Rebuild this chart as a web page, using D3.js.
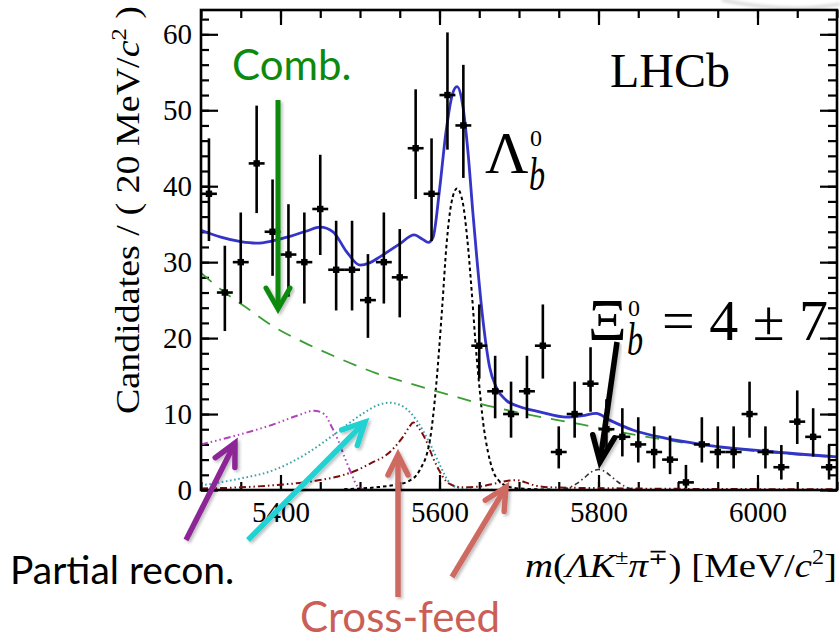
<!DOCTYPE html>
<html>
<head>
<meta charset="utf-8">
<script src="https://cdn.jsdelivr.net/npm/d3@7"></script>
<style>
  html, body { margin: 0; padding: 0; background: #fff; }
  svg { display: block; }
</style>
</head>
<body>
<svg id="chart" width="840" height="641"></svg>
<script>
// ---- Data: m(Lambda K pi) spectrum, 20 MeV/c^2 bins ----
const binCenters = [5310, 5330, 5350, 5370, 5390, 5410, 5430, 5450, 5470, 5490,
                    5510, 5530, 5550, 5570, 5590, 5610, 5630, 5650, 5670, 5690,
                    5710, 5730, 5750, 5770, 5790, 5810, 5830, 5850, 5870, 5890,
                    5910, 5930, 5950, 5970, 5990, 6010, 6030, 6050, 6070, 6090];
const counts = [39, 26, 30, 43, 34, 31, 30, 37, 29, 29,
                25, 30, 28, 45, 39, 52, 48, 19, 13, 10,
                13, 19, 5, 10, 14, 8, 7, 6, 5, 4,
                1, 6, 5, 5, 10, 5, 3, 9, 7, 3];
// asymmetric (Poisson) uncertainties
const errLow = [6.22, 5.07, 5.45, 6.54, 5.80, 5.54, 5.45, 6.06, 5.36, 5.36,
                4.97, 5.45, 5.27, 6.69, 6.22, 7.19, 6.91, 4.33, 3.56, 3.11,
                3.56, 4.33, 2.16, 3.11, 3.70, 2.77, 2.58, 2.38, 2.16, 1.91,
                0.83, 2.38, 2.16, 2.16, 3.11, 2.16, 1.63, 2.94, 2.58, 1.63];
const errHigh = [7.30, 6.16, 6.54, 7.61, 6.89, 6.63, 6.54, 7.14, 6.45, 6.45,
                 6.06, 6.54, 6.36, 7.76, 7.30, 8.25, 7.98, 5.43, 4.67, 4.27,
                 4.67, 5.43, 3.38, 4.27, 4.80, 3.95, 3.77, 3.58, 3.38, 3.16,
                 2.30, 3.58, 3.38, 3.38, 4.27, 3.38, 2.92, 4.11, 3.77, 2.92];
const binHalfWidth = 10;

// ---- Fit components: [mass, candidates per bin] ----
const totalFit = [[5300,34.2],[5325,33.3],[5350,32.7],[5370,32.5],[5390,32.8],[5412,33.4],
  [5433,34.1],[5450,34.6],[5466,34.0],[5483,31.4],[5500,29.6],[5512,29.9],[5525,30.7],
  [5550,32.4],[5568,33.6],[5579,33.0],[5586,32.6],[5592,33.3],[5600,39.5],[5608,47.0],
  [5616,52.0],[5622,53.1],[5629,50.8],[5636,44.3],[5642,36.5],[5647,30.5],[5654,23.0],
  [5663,16.2],[5672,13.4],[5684,11.8],[5700,11.0],[5726,10.3],[5760,9.6],[5780,9.8],
  [5797,10.1],[5814,9.2],[5843,7.9],[5885,6.8],[5927,6.05],[6011,5.1],[6100,4.35]];
const combinatorial = [[5300,28.6],[5330,26.0],[5360,23.8],[5390,21.6],[5430,19.4],
  [5470,17.5],[5520,15.4],[5570,13.8],[5610,12.6],[5650,11.4],[5690,10.4],[5780,8.6],
  [5850,7.2],[5930,5.9],[6010,5.0],[6100,4.3]];
const lambdabSignal = [[5480,0.1],[5520,0.35],[5545,0.7],[5560,1.1],[5575,2.6],[5588,6.6],
  [5596,14],[5603,23.5],[5609,32.5],[5615,37.8],[5622,39.7],[5629,38],[5635,33],[5641,25.5],
  [5646,18.4],[5650,13.8],[5655,8.8],[5661,5],[5667,2.6],[5675,1.2],[5685,0.5],[5700,0.2],
  [5740,0.05]];
const xibSignal = [[5740,0],[5760,0.2],[5772,0.8],[5782,1.6],[5790,2.3],[5800,2.7],
  [5810,2.3],[5818,1.6],[5828,0.8],[5840,0.2],[5860,0]];
const partialRecoA = [[5300,6.0],[5345,7.2],[5390,8.6],[5424,9.9],[5442,10.45],[5455,10.0],
  [5464,8.4],[5473,6.4],[5481,4.2],[5489,2.2],[5496,0.6],[5503,0.1],[5510,0]];
const partialRecoB = [[5300,0.6],[5349,1.5],[5391,2.6],[5433,4.8],[5470,7.5],[5504,10.1],
  [5523,11.2],[5537,11.5],[5554,11.0],[5571,9.2],[5588,6.1],[5600,3.4],[5613,0.9],
  [5625,0.25],[5640,0.05],[5700,0]];
const crossFeed = [[5300,0.2],[5350,0.35],[5400,0.7],[5430,1.0],[5455,1.4],[5480,2.0],
  [5496,2.6],[5515,3.6],[5533,4.6],[5545,5.8],[5554,7.0],[5562,8.3],[5567,8.9],[5575,8.0],
  [5584,6.3],[5592,4.2],[5600,2.5],[5608,1.2],[5617,0.6],[5630,0.35],[5650,0.45],
  [5672,0.9],[5688,1.25],[5697,1.3],[5708,1.0],[5720,0.6],[5740,0.35],[5800,0.25],
  [5900,0.15],[6100,0.1]];

const xTicks = [5400, 5600, 5800, 6000];
const yTicks = [0, 10, 20, 30, 40, 50, 60];
const xMinorTicks = [5300,5350,5400,5450,5500,5550,5600,5650,5700,5750,5800,5850,5900,5950,6000,6050,6100];
const yMinorTicks = [0,2,4,6,8,10,12,14,16,18,20,22,24,26,28,30,32,34,36,38,40,42,44,46,48,50,52,54,56,58,60,62];

// ---- Setup ----
const svg = d3.select("#chart");
const serif = "'Liberation Serif','Times New Roman',Times,serif";
const sans = "Lato,'Open Sans','Noto Sans',sans-serif";
const plot = { left: 201, right: 837, top: 10, bottom: 490 };

const x = d3.scaleLinear().domain([5300, 6100]).range([plot.left, plot.right]);
const y = d3.scaleLinear().domain([0, 63.2]).range([plot.bottom, plot.top]);

const defs = svg.append("defs");
defs.append("clipPath").attr("id", "plotClip")
  .append("rect").attr("x", plot.left).attr("y", plot.top)
  .attr("width", plot.right - plot.left).attr("height", plot.bottom - plot.top);
const shadow = defs.append("filter").attr("id", "shadow")
  .attr("x", "-20%").attr("y", "-20%").attr("width", "140%").attr("height", "140%");
shadow.append("feDropShadow").attr("dx", 2).attr("dy", 2).attr("stdDeviation", 1.5)
  .attr("flood-color", "#000").attr("flood-opacity", 0.25);
const soft = defs.append("filter").attr("id", "soft");
soft.append("feGaussianBlur").attr("stdDeviation", 1.5);

// faint rim of a neighbouring panel at the top-right corner
svg.append("path").attr("d", "M722,0 Q790,14 840,4")
  .attr("fill", "none").attr("stroke", "#d8d8d8").attr("stroke-width", 3)
  .attr("filter", "url(#soft)");

// ---- Axes (ticks point inward on all four sides) ----
function styleAxis(g) {
  g.select(".domain").remove();
  g.selectAll(".tick line").attr("stroke", "#000").attr("stroke-width", 2.2);
  g.selectAll(".tick text").attr("font-family", serif).attr("font-size", 29).attr("fill", "#000");
}
const gAxes = svg.append("g");
gAxes.append("g").attr("transform", `translate(0,${plot.bottom})`)
  .call(d3.axisBottom(x).tickValues(xMinorTicks).tickSizeInner(-8).tickSizeOuter(0).tickFormat(""))
  .call(styleAxis);
gAxes.append("g").attr("transform", `translate(0,${plot.bottom})`)
  .call(d3.axisBottom(x).tickValues(xTicks).tickSizeInner(-15).tickSizeOuter(0).tickPadding(11).tickFormat(d3.format("d")))
  .call(styleAxis);
gAxes.append("g").attr("transform", `translate(0,${plot.top})`)
  .call(d3.axisTop(x).tickValues(xMinorTicks).tickSizeInner(-8).tickSizeOuter(0).tickFormat(""))
  .call(styleAxis);
gAxes.append("g").attr("transform", `translate(0,${plot.top})`)
  .call(d3.axisTop(x).tickValues(xTicks).tickSizeInner(-15).tickSizeOuter(0).tickFormat(""))
  .call(styleAxis);
gAxes.append("g").attr("transform", `translate(${plot.left},0)`)
  .call(d3.axisLeft(y).tickValues(yMinorTicks).tickSizeInner(-8).tickSizeOuter(0).tickFormat(""))
  .call(styleAxis);
gAxes.append("g").attr("transform", `translate(${plot.left},0)`)
  .call(d3.axisLeft(y).tickValues(yTicks).tickSizeInner(-17).tickSizeOuter(0).tickPadding(9).tickFormat(d3.format("d")))
  .call(styleAxis);
gAxes.append("g").attr("transform", `translate(${plot.right},0)`)
  .call(d3.axisRight(y).tickValues(yMinorTicks).tickSizeInner(-9).tickSizeOuter(0).tickFormat(""))
  .call(styleAxis);
gAxes.append("g").attr("transform", `translate(${plot.right},0)`)
  .call(d3.axisRight(y).tickValues(yTicks).tickSizeInner(-17).tickSizeOuter(0).tickFormat(""))
  .call(styleAxis);

// ---- Fit curves ----
const line = d3.line().x(d => x(d[0])).y(d => y(d[1])).curve(d3.curveMonotoneX);
const gCurves = svg.append("g").attr("clip-path", "url(#plotClip)").attr("fill", "none");
const curveStyles = [
  { data: partialRecoA, color: "#b243b8", width: 2, dash: "7,3,1.5,3,1.5,3,1.5,3" },
  { data: partialRecoB, color: "#3aa3ad", width: 2, dash: "1.6,2.6" },
  { data: crossFeed, color: "#7d0c0c", width: 2, dash: "7,3,1.5,3,1.5,3" },
  { data: lambdabSignal, color: "#000", width: 2, dash: "3.5,3" },
  { data: xibSignal, color: "#333", width: 1.6, dash: "5,3,1.5,3" },
  { data: combinatorial, color: "#3a9e34", width: 1.8, dash: "14,10" },
  { data: totalFit, color: "#3434c8", width: 2.8, dash: null }
];
curveStyles.forEach(c => {
  gCurves.append("path").datum(c.data).attr("d", line)
    .attr("stroke", c.color).attr("stroke-width", c.width)
    .attr("stroke-dasharray", c.dash);
});

// ---- Data points with error bars ----
const points = binCenters.map((m, i) => ({ m, n: counts[i], lo: errLow[i], hi: errHigh[i] }));
const gData = svg.append("g").attr("clip-path", "url(#plotClip)");
const pt = gData.selectAll("g.pt").data(points).join("g").attr("class", "pt");
pt.append("line")
  .attr("x1", d => x(d.m)).attr("x2", d => x(d.m))
  .attr("y1", d => y(d.n - d.lo)).attr("y2", d => y(d.n + d.hi))
  .attr("stroke", "#000").attr("stroke-width", 2.6);
pt.append("line")
  .attr("x1", d => x(d.m - binHalfWidth)).attr("x2", d => x(d.m + binHalfWidth))
  .attr("y1", d => y(d.n)).attr("y2", d => y(d.n))
  .attr("stroke", "#000").attr("stroke-width", 2.6);
pt.append("rect")
  .attr("x", d => x(d.m) - 3.2).attr("y", d => y(d.n) - 3.2)
  .attr("width", 6.4).attr("height", 6.4).attr("fill", "#000");

// ---- Frame ----
svg.append("rect").attr("x", plot.left).attr("y", plot.top)
  .attr("width", plot.right - plot.left).attr("height", plot.bottom - plot.top)
  .attr("fill", "none").attr("stroke", "#000").attr("stroke-width", 2.6);

// ---- Axis titles ----
const xTitle = svg.append("text").attr("x", 525).attr("y", 577)
  .attr("font-family", serif).attr("font-size", 34).attr("fill", "#000");
xTitle.append("tspan").attr("font-style", "italic").text("m");
xTitle.append("tspan").text("(");
xTitle.append("tspan").attr("font-style", "italic").text("ΛK");
xTitle.append("tspan").attr("font-size", 21).attr("dy", -13).text("±");
xTitle.append("tspan").attr("font-style", "italic").attr("dy", 13).text("π");
xTitle.append("tspan").attr("font-size", 21).attr("dy", -13).text("∓");
xTitle.append("tspan").attr("dy", 13).text(") [MeV/");
xTitle.append("tspan").attr("font-style", "italic").text("c");
xTitle.append("tspan").attr("font-size", 21).attr("dy", -13).text("2");
xTitle.append("tspan").attr("dy", 13).text("]");
xTitle.attr("textLength", 312).attr("lengthAdjust", "spacingAndGlyphs");

const yTitle = svg.append("text")
  .attr("transform", "translate(139,210) rotate(-90)")
  .attr("text-anchor", "middle")
  .attr("font-family", serif).attr("font-size", 34).attr("fill", "#000");
yTitle.append("tspan").text("Candidates / ( 20 MeV/");
yTitle.append("tspan").attr("font-style", "italic").text("c");
yTitle.append("tspan").attr("font-size", 22).attr("dy", -13).text("2");
yTitle.append("tspan").attr("dy", 13).text(" )");
yTitle.attr("textLength", 408).attr("lengthAdjust", "spacingAndGlyphs");

// ---- Labels inside the frame ----
svg.append("text").attr("x", 610).attr("y", 87)
  .attr("font-family", serif).attr("font-size", 48).attr("fill", "#000").text("LHCb");

svg.append("text").attr("x", 485).attr("y", 173)
  .attr("font-family", serif).attr("font-size", 60).attr("fill", "#000").text("Λ");
svg.append("text").attr("x", 530).attr("y", 146)
  .attr("font-family", serif).attr("font-size", 24).attr("fill", "#000").text("0");
svg.append("text").attr("transform", "translate(529,190) scale(0.7,1)")
  .attr("font-family", serif).attr("font-style", "italic").attr("font-size", 46)
  .attr("fill", "#000").text("b");

svg.append("text").attr("x", 588).attr("y", 340)
  .attr("font-family", serif).attr("font-size", 60).attr("fill", "#000").text("Ξ");
svg.append("text").attr("x", 628).attr("y", 316)
  .attr("font-family", serif).attr("font-size", 24).attr("fill", "#000").text("0");
svg.append("text").attr("transform", "translate(627,355) scale(0.7,1)")
  .attr("font-family", serif).attr("font-style", "italic").attr("font-size", 46)
  .attr("fill", "#000").text("b");
svg.append("text").attr("x", 662).attr("y", 340)
  .attr("font-family", serif).attr("font-size", 58).attr("fill", "#000")
  .attr("xml:space", "preserve").text("= 4 ± 7");

// ---- Annotations: component callouts ----
const gNotes = svg.append("g");
function arrow(x1, y1, x2, y2, color, width, headLen, headHalf) {
  const dx = x2 - x1, dy = y2 - y1, len = Math.hypot(dx, dy);
  const ux = dx / len, uy = dy / len;
  const bx = x2 - ux * headLen, by = y2 - uy * headLen;
  const g = gNotes.append("g").attr("filter", "url(#shadow)")
    .attr("stroke", color).attr("stroke-width", width).attr("fill", "none");
  g.append("line").attr("x1", x1).attr("y1", y1).attr("x2", x2).attr("y2", y2);
  g.append("polyline")
    .attr("points", `${bx - uy * headHalf},${by + ux * headHalf} ${x2},${y2} ${bx + uy * headHalf},${by - ux * headHalf}`)
    .attr("stroke-linejoin", "miter").attr("stroke-linecap", "round");
}
arrow(278, 100, 278, 309, "#0d8a0d", 5, 21, 12);
arrow(617, 342, 600, 462, "#000", 5.5, 26, 11);
arrow(186, 540, 235, 443, "#8c2696", 5.5, 22, 11);
arrow(248, 540, 365, 422, "#20d2d2", 5.5, 22, 11);
arrow(398, 597, 398, 455, "#cf6a62", 5.5, 20, 10);
arrow(452, 577, 506, 487, "#cf6a62", 5.5, 22, 11);

svg.append("text").attr("x", 232).attr("y", 80)
  .attr("font-family", sans).attr("font-size", 42).attr("fill", "#0d8a0d").text("Comb.");
svg.append("text").attr("x", 10).attr("y", 584)
  .attr("font-family", sans).attr("font-size", 39).attr("fill", "#000").text("Partial recon.");
svg.append("text").attr("x", 300).attr("y", 632)
  .attr("font-family", sans).attr("font-size", 42).attr("fill", "#cb5f57").text("Cross-feed");
</script>
</body>
</html>
